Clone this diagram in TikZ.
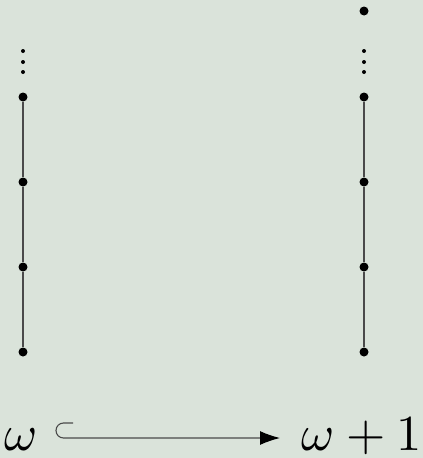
\documentclass[tikz,border=0pt]{standalone}
\usetikzlibrary{arrows.meta}
\definecolor{bg}{HTML}{DAE3DA}
\definecolor{ln}{HTML}{4A4A4A}
\begin{document}
\begin{tikzpicture}[x=1pt,y=-1pt,
  bigdot/.style={circle,fill=black,inner sep=0pt,minimum size=9pt},
  smalldot/.style={circle,fill=black,inner sep=0pt,minimum size=4pt},
  chain/.style={draw=ln,line width=1.1pt},
  lbl/.style={scale=5.05,inner sep=0pt}]
\fill[bg] (0,0) rectangle (423,458);
\useasboundingbox (0,0) rectangle (423,458);
% left column
\foreach \i/\y in {1/97,2/182,3/267,4/352} {\node[bigdot] (L\i) at (23,\y) {};}
\foreach \i/\y in {1/51,2/62,3/72} {\node[smalldot] (Le\i) at (23,\y) {};}
\draw[chain] (L1) -- (L2) (L2) -- (L3) (L3) -- (L4);
% right column
\foreach \i/\y in {1/97,2/182,3/267,4/352} {\node[bigdot] (R\i) at (364,\y) {};}
\foreach \i/\y in {1/51,2/62,3/72} {\node[smalldot] (Re\i) at (364,\y) {};}
\node[bigdot] (Rtop) at (364,11) {};
\draw[chain] (R1) -- (R2) (R2) -- (R3) (R3) -- (R4);
% labels
\node[lbl,anchor=base] (w) at (21.5,450) {$\omega$};
\node[lbl,anchor=base] (w1) at (362,450) {$\omega+1$};
% hooked arrow
\coordinate (hs) at (73,423);
\coordinate (he) at (280,438);
\draw[draw=ln,line width=1.1pt,-{Latex[length=20pt,width=14pt,black]}]
  (hs) -- ++(-9.5,0) arc[start angle=270,end angle=90,radius=7.5] -- (he);
\end{tikzpicture}
\end{document}
